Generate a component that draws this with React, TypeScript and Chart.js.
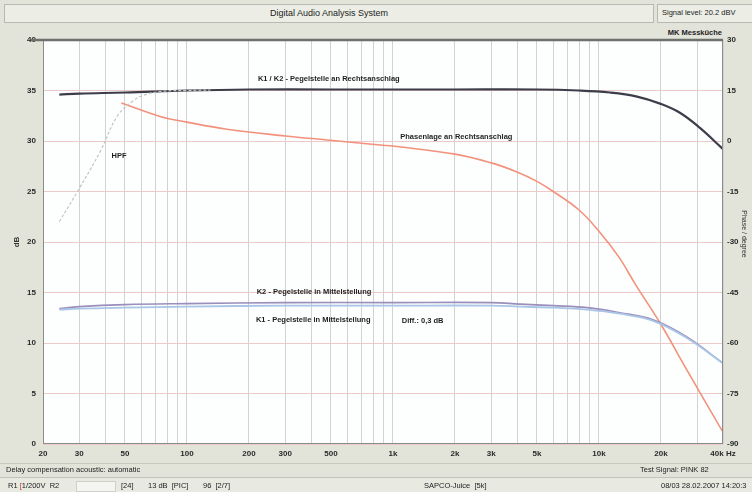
import React, { useEffect, useRef } from "react";
import { Chart, registerables } from "chart.js";

Chart.register(...registerables);

// ---- Data ----
const gridFreqs = [
  20, 30, 40, 50, 60, 70, 80, 90, 100, 200, 300, 400, 500, 600, 700, 800, 900,
  1000, 2000, 3000, 4000, 5000, 6000, 7000, 8000, 9000, 10000, 20000, 30000, 40000,
];
const xTickLabels: Record<number, string> = {
  20: "20", 30: "30", 50: "50", 100: "100", 200: "200", 300: "300", 500: "500",
  1000: "1k", 2000: "2k", 3000: "3k", 5000: "5k", 10000: "10k", 20000: "20k", 40000: "40k Hz",
};

const freqRight = [24, 30, 50, 100, 200, 500, 1000, 2000, 5000, 8000, 11300, 15300, 19800, 24700, 30900, 40000];
const levelRight = [34.6, 34.7, 34.8, 35.0, 35.1, 35.1, 35.1, 35.1, 35.1, 35.0, 34.8, 34.4, 33.7, 32.8, 31.3, 29.2];

const freqHpf = [24, 30, 38, 46, 55, 61, 74, 100, 130];
const levelHpf = [22.0, 25.3, 29.0, 32.5, 34.0, 34.5, 34.9, 35.0, 35.05];

const freqPhase = [48, 74, 100, 156, 300, 480, 865, 1000, 2000, 3000, 4000, 5000, 6000, 8000, 10000, 12500, 15000, 20000, 26700, 40000];
const phaseRight = [11.3, 7.3, 5.6, 3.5, 1.5, 0.3, -1.2, -1.5, -3.9, -6.5, -9.2, -12.0, -15.0, -20.5, -26.8, -34.5, -42.5, -54.5, -68.0, -86.5];

const freqMid = [24, 30, 50, 100, 300, 1000, 3000, 4140, 6000, 8750, 12600, 18300, 26700, 40000];
const levelK2Mid = [13.4, 13.6, 13.8, 13.9, 14.0, 14.0, 14.0, 13.85, 13.7, 13.5, 13.0, 12.3, 10.6, 8.0];
const levelK1Mid = [13.3, 13.4, 13.5, 13.6, 13.7, 13.7, 13.7, 13.6, 13.5, 13.3, 12.9, 12.2, 10.5, 8.0];

const curveLabels = [
  { text: "K1 / K2 - Pegelstelle an Rechtsanschlag", f: 221, db: 36.1 },
  { text: "HPF", f: 43, db: 28.5 },
  { text: "Phasenlage an Rechtsanschlag", f: 1085, db: 30.4 },
  { text: "K2 - Pegelstelle in Mittelstellung", f: 218, db: 15.1 },
  { text: "K1 - Pegelstelle in Mittelstellung", f: 216, db: 12.3 },
  { text: "Diff.: 0,3 dB", f: 1104, db: 12.2 },
];

const zip = (xs: number[], ys: number[]) => xs.map((x, i) => ({ x, y: ys[i] }));

const FONT = "'Liberation Sans', Arial, sans-serif";

export default function App() {
  const canvasRef = useRef<HTMLCanvasElement | null>(null);

  useEffect(() => {
    document.body.style.margin = "0";
    const canvas = canvasRef.current;
    if (!canvas) return;

    const framePlugin = {
      id: "frame",
      beforeDraw(chart: any) {
        const { ctx, chartArea: a } = chart;
        ctx.save();
        ctx.fillStyle = "#fdfefe";
        ctx.fillRect(a.left, a.top, a.right - a.left, a.bottom - a.top);
        ctx.restore();
      },
      afterDraw(chart: any) {
        const { ctx, chartArea: a, scales } = chart;
        ctx.save();
        ctx.strokeStyle = "#8a8c88";
        ctx.lineWidth = 1;
        ctx.strokeRect(a.left + 0.5, a.top + 0.5, a.right - a.left - 1, a.bottom - a.top - 1);
        ctx.strokeStyle = "#6e706c";
        ctx.lineWidth = 2.5;
        ctx.beginPath();
        ctx.moveTo(a.left - 12, a.top);
        ctx.lineTo(a.right, a.top);
        ctx.stroke();
        ctx.fillStyle = "#1e1e1e";
        ctx.font = `bold 7.5px ${FONT}`;
        ctx.textBaseline = "middle";
        ctx.textAlign = "left";
        for (const l of curveLabels) {
          ctx.fillText(l.text, scales.x.getPixelForValue(l.f), scales.y.getPixelForValue(l.db));
        }
        ctx.font = `bold 8px ${FONT}`;
        ctx.fillStyle = "#333";
        ctx.save();
        ctx.translate(17, (a.top + a.bottom) / 2);
        ctx.rotate(-Math.PI / 2);
        ctx.textAlign = "center";
        ctx.fillText("dB", 0, 0);
        ctx.restore();
        ctx.save();
        ctx.translate(744, (a.top + a.bottom) / 2 - 8);
        ctx.rotate(Math.PI / 2);
        ctx.textAlign = "center";
        ctx.font = `7px ${FONT}`;
        ctx.fillText("Phase / degree", 0, 0);
        ctx.restore();
        ctx.restore();
      },
    };

    const line = { pointRadius: 0, tension: 0.4 };

    const chart = new Chart(canvas, {
      type: "line",
      data: {
        datasets: [
          {
            label: "HPF",
            data: zip(freqHpf, levelHpf),
            yAxisID: "y",
            borderColor: "#c4c6c4",
            borderWidth: 1.2,
            borderDash: [3, 2],
            ...line,
          },
          {
            label: "K1 Mittelstellung",
            data: zip(freqMid, levelK1Mid),
            yAxisID: "y",
            borderColor: "#a9c6e6",
            borderWidth: 1.8,
            ...line,
          },
          {
            label: "K2 Mittelstellung",
            data: zip(freqMid, levelK2Mid),
            yAxisID: "y",
            borderColor: "#9a8fbc",
            borderWidth: 1.6,
            ...line,
          },
          {
            label: "Phasenlage an Rechtsanschlag",
            data: zip(freqPhase, phaseRight),
            yAxisID: "y2",
            borderColor: "#f2927c",
            borderWidth: 1.6,
            ...line,
          },
          {
            label: "K1 / K2 Rechtsanschlag",
            data: zip(freqRight, levelRight),
            yAxisID: "y",
            borderColor: "#3c3d48",
            borderWidth: 2.2,
            ...line,
          },
        ],
      },
      options: {
        responsive: false,
        animation: false,
        layout: { padding: { top: 40, left: 0, right: 0, bottom: 0 } },
        plugins: { legend: { display: false }, tooltip: { enabled: false }, title: { display: false } },
        scales: {
          x: {
            type: "logarithmic",
            min: 20,
            max: 40000,
            afterBuildTicks: (scale: any) => {
              scale.ticks = gridFreqs.map((v) => ({ value: v }));
            },
            afterFit: (scale: any) => {
              scale.height = 48;
            },
            grid: { color: "#d2d2d2", lineWidth: 1, drawTicks: false },
            border: { display: false },
            ticks: {
              autoSkip: false,
              maxRotation: 0,
              padding: 5,
              color: "#2a2a2a",
              font: { family: FONT, size: 8, weight: "bold" },
              callback: (value: any) => xTickLabels[Number(value)] ?? "",
            },
          },
          y: {
            position: "left",
            min: 0,
            max: 40,
            afterFit: (scale: any) => {
              scale.width = 43;
            },
            grid: { color: "#eccaca", lineWidth: 1, drawTicks: false },
            border: { display: false },
            ticks: {
              stepSize: 5,
              padding: 7,
              color: "#2a2a2a",
              font: { family: FONT, size: 8, weight: "bold" },
            },
          },
          y2: {
            position: "right",
            min: -90,
            max: 30,
            afterFit: (scale: any) => {
              scale.width = 29;
            },
            grid: { display: false, drawTicks: false },
            border: { display: false },
            ticks: {
              stepSize: 15,
              padding: 4,
              color: "#2a2a2a",
              font: { family: FONT, size: 8, weight: "bold" },
            },
          },
        },
      },
      plugins: [framePlugin],
    } as any);

    return () => chart.destroy();
  }, []);

  const txt: React.CSSProperties = {
    position: "absolute",
    fontFamily: FONT,
    fontSize: 7.5,
    color: "#222",
    whiteSpace: "nowrap",
    lineHeight: "10px",
  };

  return (
    <div
      style={{
        position: "fixed",
        left: 0,
        top: 0,
        width: 752,
        height: 492,
        background: "#e2e4da",
        overflow: "hidden",
      }}
    >
      <div
        style={{
          position: "absolute",
          left: 4,
          top: 4,
          width: 650,
          height: 19,
          background: "#eceee6",
          border: "1px solid #b8bab2",
          boxSizing: "border-box",
        }}
      />
      <div style={{ ...txt, left: 4, width: 650, top: 8, textAlign: "center", fontSize: 9 }}>
        Digital Audio Analysis System
      </div>
      <div
        style={{
          position: "absolute",
          left: 657,
          top: 4,
          width: 100,
          height: 19,
          background: "#eceee6",
          border: "1px solid #b8bab2",
          boxSizing: "border-box",
        }}
      />
      <div style={{ ...txt, left: 662, top: 8, fontSize: 7.5 }}>Signal level: 20.2 dBV</div>
      <div style={{ ...txt, left: 620, width: 102, top: 28, textAlign: "right", fontWeight: "bold", fontSize: 7.5 }}>
        MK Messküche
      </div>

      <canvas
        ref={canvasRef}
        width={752}
        height={492}
        style={{ position: "absolute", left: 0, top: 0, width: 752, height: 492 }}
      />

      <div style={{ position: "absolute", left: 0, top: 463, width: 752, height: 1, background: "#c8cac2" }} />
      <div style={{ ...txt, left: 6, top: 465 }}>Delay compensation acoustic: automatic</div>
      <div style={{ ...txt, left: 640, top: 465 }}>Test Signal: PINK 82</div>
      <div
        style={{
          position: "absolute",
          left: 0,
          top: 477,
          width: 752,
          height: 15,
          background: "#e8eae2",
          borderTop: "1px solid #c2c4bc",
        }}
      />
      <div style={{ ...txt, left: 8, top: 481 }}>
        R1 <span style={{ color: "#c03020" }}>[</span>1/200V&nbsp; R2
      </div>
      <div style={{ position: "absolute", left: 76, top: 481, width: 38, height: 9, background: "#f4f4f0", border: "1px solid #d0d0c8" }} />
      <div style={{ ...txt, left: 121, top: 481 }}>[24]</div>
      <div style={{ ...txt, left: 148, top: 481 }}>13 dB&nbsp; [PIC]</div>
      <div style={{ ...txt, left: 203, top: 481 }}>96&nbsp; [2/7]</div>
      <div style={{ ...txt, left: 424, top: 481 }}>SAPCO-Juice&nbsp; [5k]</div>
      <div style={{ ...txt, left: 661, top: 481 }}>08/03 28.02.2007 14:20:3</div>
    </div>
  );
}
